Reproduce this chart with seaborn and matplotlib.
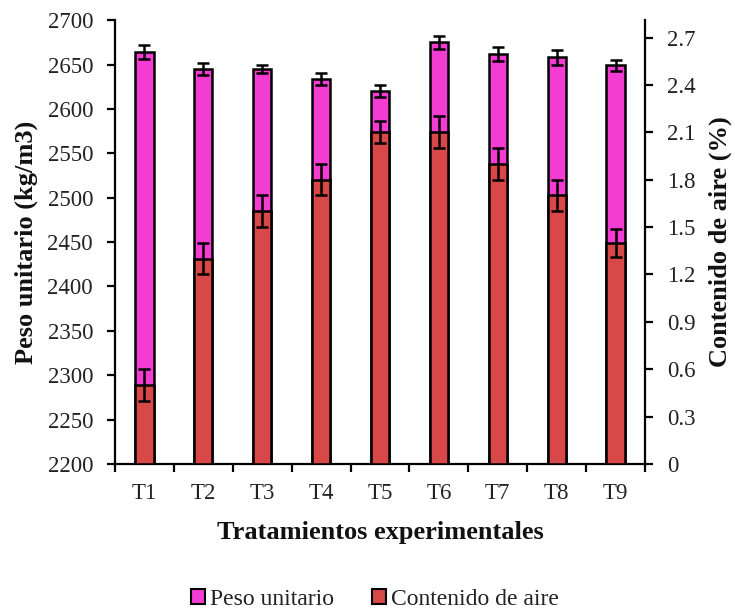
import numpy as np
import pandas as pd
import matplotlib
matplotlib.use("Agg")
import matplotlib.pyplot as plt
import seaborn as sns
from matplotlib.patches import Patch
from matplotlib.ticker import FuncFormatter, FixedLocator

# Treatments and measured values
tratamientos = ["T1", "T2", "T3", "T4", "T5", "T6", "T7", "T8", "T9"]
peso_unitario = [2664, 2645, 2645, 2634, 2620, 2675, 2662, 2658, 2649]
peso_err = [8, 6.5, 4, 7, 7, 7.5, 8, 8, 6]
contenido_aire = [0.50, 1.30, 1.60, 1.80, 2.10, 2.10, 1.90, 1.70, 1.40]
aire_err = [0.10, 0.10, 0.10, 0.10, 0.07, 0.10, 0.10, 0.10, 0.09]

left_ticks = [2200, 2250, 2300, 2350, 2400, 2450, 2500, 2550, 2600, 2650, 2700]
right_ticks = [0, 0.3, 0.6, 0.9, 1.2, 1.5, 1.8, 2.1, 2.4, 2.7]

MAGENTA = "#F23CD2"
RED = "#D84848"

sns.set_theme(style="white")
plt.rcParams["font.family"] = ["Liberation Serif", "DejaVu Serif"]

df = pd.DataFrame({"trat": tratamientos, "peso": peso_unitario,
                   "aire": contenido_aire})

fig = plt.figure(figsize=(7.35, 6.10), dpi=100)
ax = fig.add_axes([0.1565, 0.2393, 0.8776 - 0.1565, 0.967 - 0.2393])
ax2 = ax.twinx()

BW = 0.31
sns.barplot(data=df, x="trat", y="peso", ax=ax, color=MAGENTA, width=BW,
            errorbar=None, edgecolor="black", linewidth=1.8, saturation=1)
sns.barplot(data=df, x="trat", y="aire", ax=ax2, color=RED, width=BW,
            errorbar=None, edgecolor="black", linewidth=1.8, saturation=1)

# Bars on the left axis start at its lower limit
for p in ax.patches:
    p.set_y(2200)
    p.set_height(p.get_height() - 2200)

xpos = np.arange(len(tratamientos))
ax.errorbar(xpos, peso_unitario, yerr=peso_err, fmt="none", ecolor="black",
            elinewidth=1.8, capsize=4.5, capthick=1.8, zorder=5)
ax2.errorbar(xpos, contenido_aire, yerr=aire_err, fmt="none", ecolor="black",
             elinewidth=1.8, capsize=4.5, capthick=1.8, zorder=5)

ax.set_ylim(2200, 2700)
ax2.set_ylim(0, 2.81)
ax.set_xlim(-0.5, len(tratamientos) - 0.5)

ax.set_yticks(left_ticks)
ax.set_yticklabels([str(t) for t in left_ticks])
ax2.yaxis.set_major_locator(FixedLocator(right_ticks))
ax2.yaxis.set_major_formatter(FuncFormatter(lambda v, _: f"{v:g}"))

TICK_FS = 16.5
TICK_LEN = 5.8
# Category labels centred, tick marks at category boundaries
ax.set_xticks(np.arange(-0.5, len(tratamientos), 1.0))
ax.set_xticklabels([])
ax.set_xticks(xpos, minor=True)
ax.set_xticklabels(tratamientos, minor=True)
ax.tick_params(axis="x", which="minor", length=0, pad=14, labelsize=TICK_FS,
               labelcolor="#222222")
ax.tick_params(axis="x", which="major", direction="out", length=TICK_LEN,
               width=1.6, color="black", bottom=True)
ax.tick_params(axis="y", direction="out", length=TICK_LEN, width=1.6,
               color="black", left=True, labelsize=TICK_FS, pad=10,
               labelcolor="#222222")
ax2.tick_params(axis="y", direction="out", length=TICK_LEN, width=1.6,
                color="black", right=True, labelsize=TICK_FS, pad=10,
                labelcolor="#222222")

for a in (ax, ax2):
    for s in ("left", "right", "bottom"):
        a.spines[s].set_color("black")
        a.spines[s].set_linewidth(1.6)
    a.spines["top"].set_visible(False)
ax.spines["right"].set_visible(False)
ax2.spines["left"].set_visible(False)
ax2.spines["bottom"].set_visible(False)

LABEL_FS = 19
ax.set_xlabel("Tratamientos experimentales", fontsize=LABEL_FS,
              fontweight="bold", labelpad=12, color="#111111")
ax.set_ylabel("Peso unitario (kg/m3)", fontsize=LABEL_FS, fontweight="bold",
              labelpad=7, color="#111111")
ax2.set_ylabel("Contenido de aire (%)", fontsize=LABEL_FS, fontweight="bold",
               labelpad=9, color="#111111")
ax.grid(False)
ax2.grid(False)

handles = [Patch(facecolor=MAGENTA, edgecolor="black", linewidth=1.5),
           Patch(facecolor=RED, edgecolor="black", linewidth=1.5)]
fig.legend(handles, ["Peso unitario", "Contenido de aire"], loc="center",
           bbox_to_anchor=(0.51, 0.018), ncol=2, frameon=False, fontsize=17,
           handlelength=0.6, handleheight=0.6, handletextpad=0.2,
           columnspacing=1.6, labelcolor="#222222")

fig.savefig("out.png", dpi=100, facecolor="white")
